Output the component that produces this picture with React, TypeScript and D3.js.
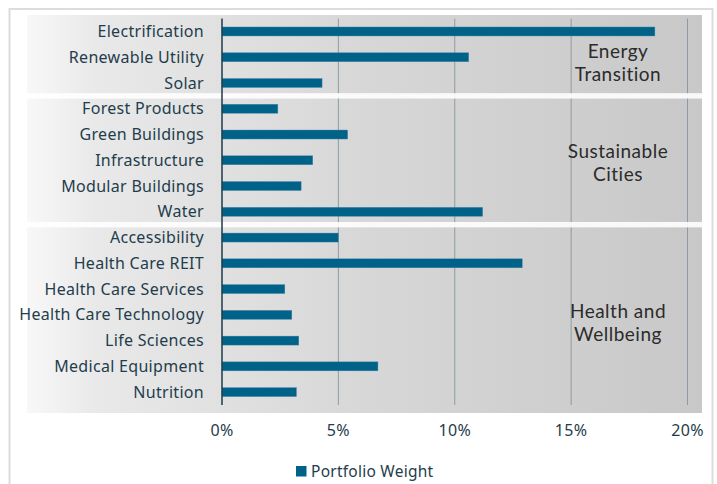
import React from "react";
import * as d3 from "d3";

const categories = [
  "Electrification",
  "Renewable Utility",
  "Solar",
  "Forest Products",
  "Green Buildings",
  "Infrastructure",
  "Modular Buildings",
  "Water",
  "Accessibility",
  "Health Care REIT",
  "Health Care Services",
  "Health Care Technology",
  "Life Sciences",
  "Medical Equipment",
  "Nutrition",
];
const weights = [18.6, 10.6, 4.3, 2.4, 5.4, 3.9, 3.4, 11.2, 5.0, 12.9, 2.7, 3.0, 3.3, 6.7, 3.2];
const groupNames = [["Energy", "Transition"], ["Sustainable", "Cities"], ["Health and", "Wellbeing"]];
const groupStart = [0, 3, 8];
const xTicks = [0, 5, 10, 15, 20];
const seriesName = "Portfolio Weight";

const W = 717;
const H = 484;
const BAR = "#006289";
const TEXT = "#1f3d4c";
const labelFont = "'Noto Sans', 'Open Sans', sans-serif";
// vertical offset (px) of each group title's first line from the top of its group
const groupTitleOffset = [36.5, 55.5, 86.5];
const LINE_GAP = 23;

export default function App() {
  const x = d3.scaleLinear().domain([0, 20]).range([222, 687.5]);
  const y = d3.scaleBand<string>().domain(categories).range([18.6, 405]).paddingInner(0.65).paddingOuter(0.325);
  const step = y.step();
  const panelLeft = 27;
  const panelRight = 702;
  const panelTop = 15;
  const panelBottom = 413;
  const bandEdge = (i: number) => (y(categories[i]) as number) - (step - y.bandwidth()) / 2;
  const boundaries = [bandEdge(3), bandEdge(8)];

  return (
    <svg width={W} height={H} style={{ position: "absolute", left: 0, top: 0 }}>
      <defs>
        <linearGradient id="bg" x1="0" x2="1" y1="0" y2="0">
          <stop offset="0" stopColor="#f8f8f8" />
          <stop offset="0.1" stopColor="#e9e9e9" />
          <stop offset="0.5" stopColor="#d7d7d7" />
          <stop offset="1" stopColor="#c9c8c8" />
        </linearGradient>
      </defs>
      <rect x={0} y={0} width={W} height={H} fill="#fff" />
      <rect x={9.5} y={9} width={703} height={H} fill="none" stroke="#dcdcdc" strokeWidth={2} />
      <rect x={panelLeft} y={panelTop} width={panelRight - panelLeft} height={panelBottom - panelTop} fill="url(#bg)" />
      {xTicks.slice(1).map((t) => (
        <line key={t} x1={x(t)} x2={x(t)} y1={18.6} y2={405} stroke="#8e9ba4" strokeWidth={1} />
      ))}
      {boundaries.map((b, i) => (
        <rect key={i} x={panelLeft} y={b - 2.7} width={panelRight - panelLeft} height={5.4} fill="#fff" opacity={0.88} />
      ))}
      {categories.map((c, i) => (
        <rect
          key={c}
          x={x(0)}
          y={y(c)}
          width={x(weights[i]) - x(0)}
          height={y.bandwidth()}
          fill={BAR}
          stroke="#4d8fac"
          strokeWidth={0.4}
        />
      ))}
      <line x1={x(0)} x2={x(0)} y1={18.6} y2={405} stroke="#1d3b4a" strokeWidth={1.5} />
      {categories.map((c) => (
        <text
          key={c}
          x={204}
          y={(y(c) as number) + y.bandwidth() / 2}
          dy="0.35em"
          textAnchor="end"
          fontFamily={labelFont}
          fontSize={16}
          letterSpacing={0.3}
          fill={TEXT}
        >
          {c}
        </text>
      ))}
      {xTicks.map((t) => (
        <text key={t} x={x(t)} y={436} textAnchor="middle" fontFamily={labelFont} fontSize={16} letterSpacing={0.3} fill={TEXT}>
          {t}%
        </text>
      ))}
      {groupNames.map((g, i) => {
        const top = bandEdge(groupStart[i]) - (i === 0 ? 3.6 : 0);
        const c1 = top + groupTitleOffset[i];
        return (
          <g key={i}>
            {g.map((line, j) => (
              <text
                key={j}
                x={618}
                y={c1 + j * LINE_GAP + 6.8}
                textAnchor="middle"
                fontFamily="Lato, 'Open Sans', sans-serif"
                fontSize={19}
                letterSpacing={0.5}
                fill="#2b2b2b"
              >
                {line}
              </text>
            ))}
          </g>
        );
      })}
      <rect x={296} y={466} width={10.5} height={10.5} fill={BAR} />
      <text x={311} y={476.5} fontFamily={labelFont} fontSize={15.5} letterSpacing={0.25} fill={TEXT}>
        {seriesName}
      </text>
    </svg>
  );
}
